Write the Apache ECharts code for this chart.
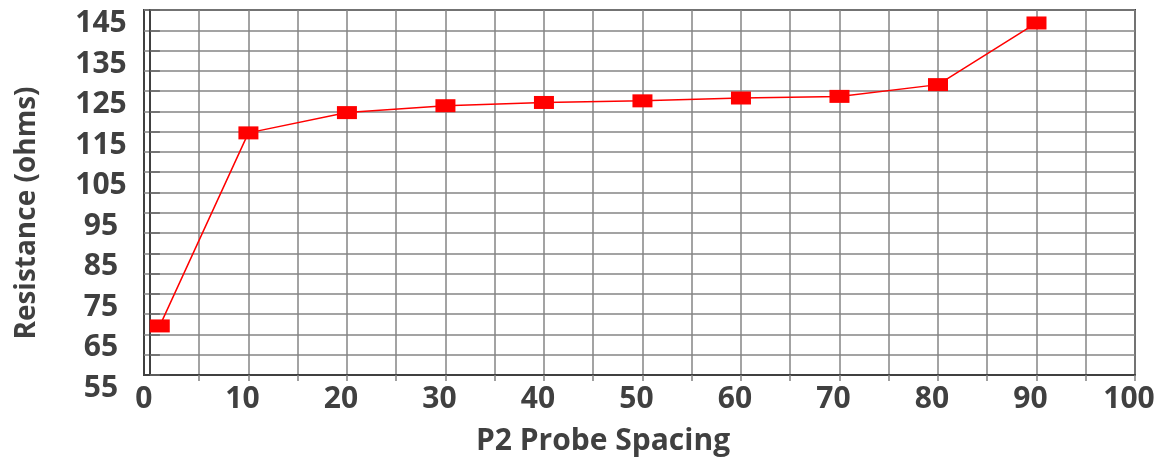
<!DOCTYPE html>
<html>
<head>
<meta charset="utf-8">
<script src="https://cdn.jsdelivr.net/npm/echarts@6/dist/echarts.min.js"></script>
<style>
html,body{margin:0;padding:0;background:#fff;}
#chart{width:1157px;height:459px;}
</style>
</head>
<body>
<div id="chart"></div>
<script>
// Data
var spacing = [1, 10, 20, 30, 40, 50, 60, 70, 80, 90];
var resistance = [67.1, 114.7, 119.7, 121.4, 122.2, 122.6, 123.3, 123.7, 126.6, 141.8];
var xTickValues = [5,10,15,20,25,30,35,40,45,50,55,60,65,70,75,80,85,90,95,100];
var xLabelValues = [0,10,20,30,40,50,60,70,80,90,100];
var yLabelValues = [55,65,75,85,95,105,115,125,135,145];

var txt = '#404040';
var font = '"Open Sans", "DejaVu Sans", sans-serif';

var chart = echarts.init(document.getElementById('chart'), null, {renderer: 'canvas'});
chart.setOption({
  animation: false,
  backgroundColor: '#ffffff',
  grid: {
    left: 144, right: 22, top: 10, bottom: 84,
    containLabel: false, outerBoundsMode: 'none',
    show: true, borderColor: '#404040', borderWidth: 2, backgroundColor: 'transparent'
  },
  xAxis: {
    type: 'value',
    min: -0.6, max: 100,
    axisLine: {show: true, onZero: false, lineStyle: {color: '#404040', width: 2}},
    axisTick: {show: true, length: 6, customValues: xTickValues, lineStyle: {color: '#808080', width: 1.5}},
    splitLine: {show: true, lineStyle: {color: '#858585', width: 1.5}},
    axisLabel: {
      customValues: xLabelValues,
      color: txt, fontFamily: font, fontWeight: 'bold', fontSize: 30,
      margin: 9, padding: [0, 12, 0, 0]
    }
  },
  yAxis: {
    type: 'value',
    min: 55, max: 145, interval: 5,
    axisLine: {show: true, lineStyle: {color: '#404040', width: 2}},
    axisTick: {show: true, inside: true, length: 10, lineStyle: {color: '#666666', width: 1.5}},
    splitLine: {show: true, lineStyle: {color: '#858585', width: 1.5}},
    axisLabel: {
      color: txt, fontFamily: font, fontWeight: 'bold', fontSize: 30,
      align: 'center', margin: 43, lineHeight: 27,
      formatter: function (v) { return yLabelValues.indexOf(v) >= 0 ? '\n' + v : ''; }
    }
  },
  graphic: [
    {
      type: 'text', x: 27, y: 213, rotation: Math.PI / 2,
      style: {text: 'Resistance (ohms)', fill: txt, font: 'bold 28px ' + font, align: 'center', verticalAlign: 'middle'}
    },
    {
      type: 'text', x: 603, y: 441,
      style: {text: 'P2 Probe Spacing', fill: txt, font: 'bold 30px ' + font, align: 'center', verticalAlign: 'middle'}
    }
  ],
  series: [{
    type: 'line',
    data: spacing.map(function (x, i) { return [x, resistance[i]]; }),
    symbol: 'rect', symbolSize: [20, 13],
    itemStyle: {color: '#ff0000'},
    lineStyle: {color: '#ff0000', width: 1.5},
    z: 5
  }]
});
</script>
</body>
</html>
